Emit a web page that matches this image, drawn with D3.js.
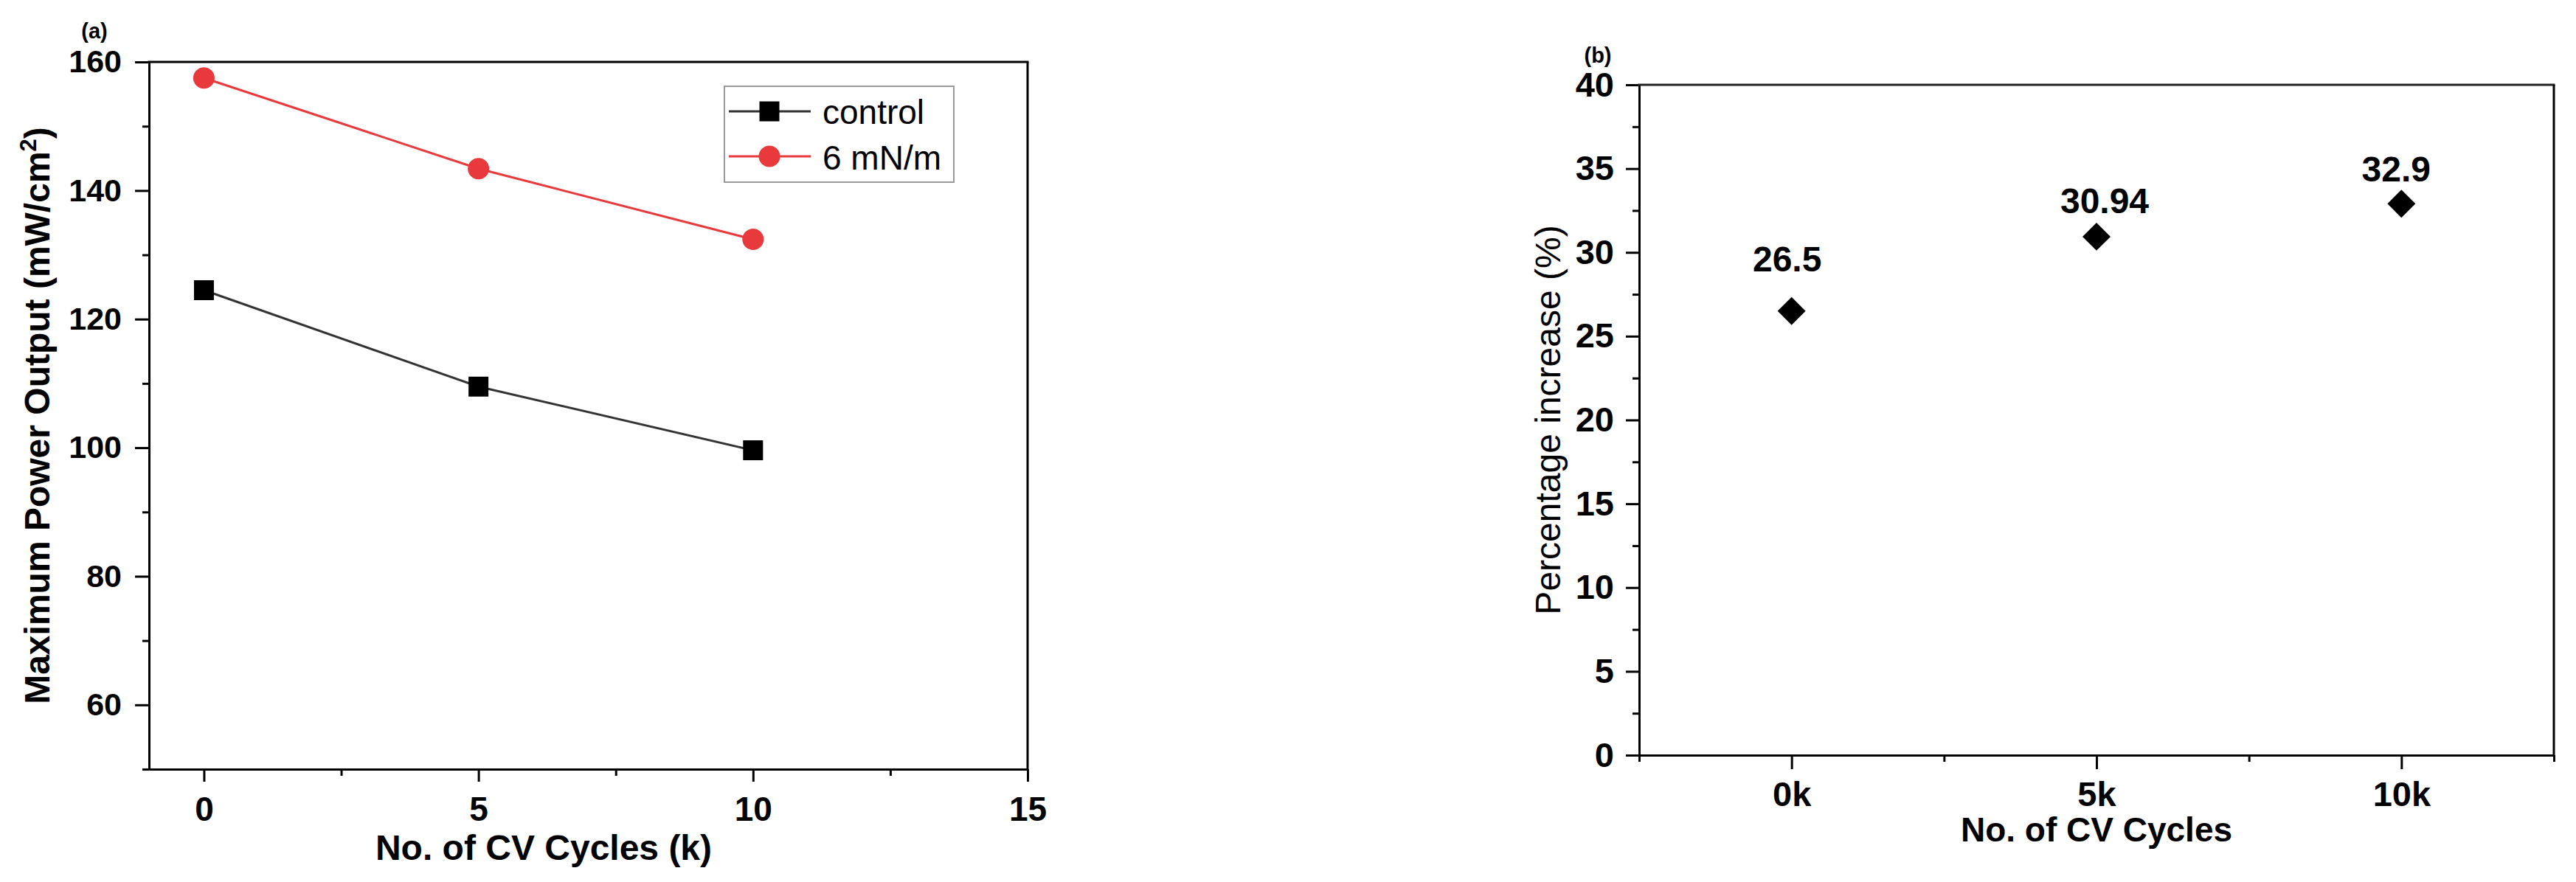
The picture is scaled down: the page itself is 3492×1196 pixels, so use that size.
<!DOCTYPE html>
<html>
<head>
<meta charset="utf-8">
<script src="https://cdn.jsdelivr.net/npm/d3@7"></script>
<style>
  html, body { margin: 0; padding: 0; background: #fff; }
  svg { display: block; }
  text { font-family: "Liberation Sans", Arial, sans-serif; fill: #000; }
</style>
</head>
<body>
<svg id="chart" width="3492" height="1196"></svg>
<script>
// ---------------- Data ----------------
// Panel (a)
const cycles = [0, 5, 10];
const controlPower = [124.5, 109.5, 99.6];
const treatedPower = [157.5, 143.4, 132.4];
const seriesNames = ["control", "6 mN/m"];
const aXTicks = [0, 5, 10, 15];
const aYTicks = [60, 80, 100, 120, 140, 160];

// Panel (b)
const bCategories = ["0k", "5k", "10k"];
const bValues = [26.5, 30.94, 32.9];
const bLabels = ["26.5", "30.94", "32.9"];
const bYTicks = [0, 5, 10, 15, 20, 25, 30, 35, 40];

// annotation placement (layout only)
const bLabelDx = [-6, 11, -7];
const bLabelDy = [-54, -32, -30];

// ---------------- Drawing ----------------
const svg = d3.select("#chart");
svg.append("rect").attr("width", 3492).attr("height", 1196).attr("fill", "#fff");

const RED = "#e8393c";
const DARK = "#333333";
const AXW = 3;

function styleAxis(g, fs) {
  g.selectAll("path.domain").attr("stroke", "#000").attr("stroke-width", AXW);
  g.selectAll(".tick line").attr("stroke", "#000").attr("stroke-width", AXW);
  g.selectAll(".tick text")
    .attr("font-size", fs)
    .attr("font-weight", "bold")
    .attr("font-family", "'Liberation Sans', Arial, sans-serif")
    .attr("fill", "#000");
}

// ===== Panel (a) =====
(function () {
  const L = 202, R = 1393, T = 84, B = 1043;
  const x = d3.scaleLinear().domain([-1, 15]).range([L, R]);
  const y = d3.scaleLinear().domain([50, 160]).range([B, T]);
  const g = svg.append("g");

  // minor ticks
  const yMinor = d3.range(50, 161, 10).filter(v => !aYTicks.includes(v));
  g.append("g").attr("transform", `translate(${L},0)`)
    .call(d3.axisLeft(y).tickValues(yMinor).tickSize(9).tickSizeOuter(0).tickFormat(""))
    .call(s => styleAxis(s, 0));
  g.append("g").attr("transform", `translate(0,${B})`)
    .call(d3.axisBottom(x).tickValues([2.5, 7.5, 12.5]).tickSize(9).tickSizeOuter(0).tickFormat(""))
    .call(s => styleAxis(s, 0));

  // major axes
  g.append("g").attr("transform", `translate(${L},0)`)
    .call(d3.axisLeft(y).tickValues(aYTicks).tickSize(19).tickPadding(18).tickSizeOuter(0).tickFormat(d3.format("d")))
    .call(s => styleAxis(s, 43));
  g.append("g").attr("transform", `translate(0,${B})`)
    .call(d3.axisBottom(x).tickValues(aXTicks).tickSize(17).tickPadding(20).tickSizeOuter(0).tickFormat(d3.format("d")))
    .call(s => styleAxis(s, 46));

  // frame top & right
  g.append("line").attr("x1", L - 1.5).attr("x2", R + 1.5).attr("y1", T).attr("y2", T)
    .attr("stroke", "#000").attr("stroke-width", AXW);
  g.append("line").attr("x1", R).attr("x2", R).attr("y1", T).attr("y2", B)
    .attr("stroke", "#000").attr("stroke-width", AXW);

  // lines
  const line = d3.line().x((d, i) => x(cycles[i])).y(d => y(d));
  g.append("path").datum(controlPower).attr("d", line)
    .attr("fill", "none").attr("stroke", DARK).attr("stroke-width", 3);
  g.append("path").datum(treatedPower).attr("d", line)
    .attr("fill", "none").attr("stroke", RED).attr("stroke-width", 3);

  const sq = d3.symbol().type(d3.symbolSquare).size(729);
  g.selectAll(".ctl").data(controlPower).enter().append("path")
    .attr("d", sq).attr("transform", (d, i) => `translate(${x(cycles[i])},${y(d)})`)
    .attr("fill", "#000");
  g.selectAll(".trt").data(treatedPower).enter().append("circle")
    .attr("cx", (d, i) => x(cycles[i])).attr("cy", d => y(d)).attr("r", 14.5)
    .attr("fill", RED);

  // legend
  const lg = g.append("g");
  lg.append("rect").attr("x", 982).attr("y", 117).attr("width", 311).attr("height", 130)
    .attr("fill", "#fff").attr("stroke", "#999").attr("stroke-width", 2);
  const rows = [
    { name: seriesNames[0], color: DARK, fill: "#000", shape: "square", cy: 151, base: 168 },
    { name: seriesNames[1], color: RED, fill: RED, shape: "circle", cy: 212, base: 230 }
  ];
  rows.forEach(r => {
    lg.append("line").attr("x1", 988).attr("x2", 1099).attr("y1", r.cy).attr("y2", r.cy)
      .attr("stroke", r.color).attr("stroke-width", 3);
    if (r.shape === "square") {
      lg.append("path").attr("d", sq).attr("transform", `translate(1043,${r.cy})`).attr("fill", r.fill);
    } else {
      lg.append("circle").attr("cx", 1043).attr("cy", r.cy).attr("r", 14.5).attr("fill", r.fill);
    }
    lg.append("text").attr("x", 1115).attr("y", r.base).attr("font-size", 46).text(r.name);
  });

  // titles
  g.append("text").attr("x", 737).attr("y", 1166).attr("text-anchor", "middle")
    .attr("font-size", 48).attr("font-weight", "bold").text("No. of CV Cycles (k)");
  const yt = g.append("text").attr("transform", `translate(67,${(T + B) / 2}) rotate(-90)`)
    .attr("text-anchor", "middle").attr("font-size", 48).attr("font-weight", "bold");
  yt.append("tspan").text("Maximum Power Output (mW/cm");
  yt.append("tspan").attr("font-size", 31).attr("dy", -18).text("2");
  yt.append("tspan").attr("dy", 18).text(")");

  g.append("text").attr("x", 128).attr("y", 52).attr("text-anchor", "middle")
    .attr("font-size", 29).attr("font-weight", "bold").text("(a)");
})();

// ===== Panel (b) =====
(function () {
  const L = 2222, R = 3462, T = 115, B = 1024;
  const x = d3.scaleLinear().domain([-0.5, 2.5]).range([L, R]);
  const y = d3.scaleLinear().domain([0, 40]).range([B, T]);
  const g = svg.append("g");

  const yMinor = d3.range(2.5, 40, 5);
  g.append("g").attr("transform", `translate(${L},0)`)
    .call(d3.axisLeft(y).tickValues(yMinor).tickSize(9).tickSizeOuter(0).tickFormat(""))
    .call(s => styleAxis(s, 0));
  g.append("g").attr("transform", `translate(0,${B})`)
    .call(d3.axisBottom(x).tickValues([-0.5, 0.5, 1.5, 2.5]).tickSize(9).tickSizeOuter(0).tickFormat(""))
    .call(s => styleAxis(s, 0));

  g.append("g").attr("transform", `translate(${L},0)`)
    .call(d3.axisLeft(y).tickValues(bYTicks).tickSize(18).tickPadding(16).tickSizeOuter(0).tickFormat(d3.format("d")))
    .call(s => styleAxis(s, 47));
  g.append("g").attr("transform", `translate(0,${B})`)
    .call(d3.axisBottom(x).tickValues(d3.range(bCategories.length)).tickSize(19).tickPadding(17)
      .tickSizeOuter(0).tickFormat(i => bCategories[i]))
    .call(s => styleAxis(s, 47));

  g.append("line").attr("x1", L - 1.5).attr("x2", R + 1.5).attr("y1", T).attr("y2", T)
    .attr("stroke", "#222").attr("stroke-width", AXW);
  g.append("line").attr("x1", R).attr("x2", R).attr("y1", T).attr("y2", B)
    .attr("stroke", "#000").attr("stroke-width", AXW);

  const dia = d3.symbol().type(d3.symbolSquare).size(720);
  g.selectAll(".pt").data(bValues).enter().append("path")
    .attr("d", dia)
    .attr("transform", (d, i) => `translate(${x(i)},${y(d)}) rotate(45)`)
    .attr("fill", "#000");
  g.selectAll(".lbl").data(bValues).enter().append("text")
    .attr("x", (d, i) => x(i) + bLabelDx[i])
    .attr("y", (d, i) => y(d) + bLabelDy[i])
    .attr("text-anchor", "middle").attr("font-size", 48).attr("font-weight", "bold")
    .text((d, i) => bLabels[i]);

  g.append("text").attr("x", (L + R) / 2).attr("y", 1141).attr("text-anchor", "middle")
    .attr("font-size", 46).attr("font-weight", "bold").text("No. of CV Cycles");
  g.append("text").attr("transform", `translate(2115,${(T + B) / 2}) rotate(-90)`)
    .attr("text-anchor", "middle").attr("font-size", 48).text("Percentage increase (%)");

  g.append("text").attr("x", 2166).attr("y", 85).attr("text-anchor", "middle")
    .attr("font-size", 29).attr("font-weight", "bold").text("(b)");
})();
</script>
</body>
</html>
